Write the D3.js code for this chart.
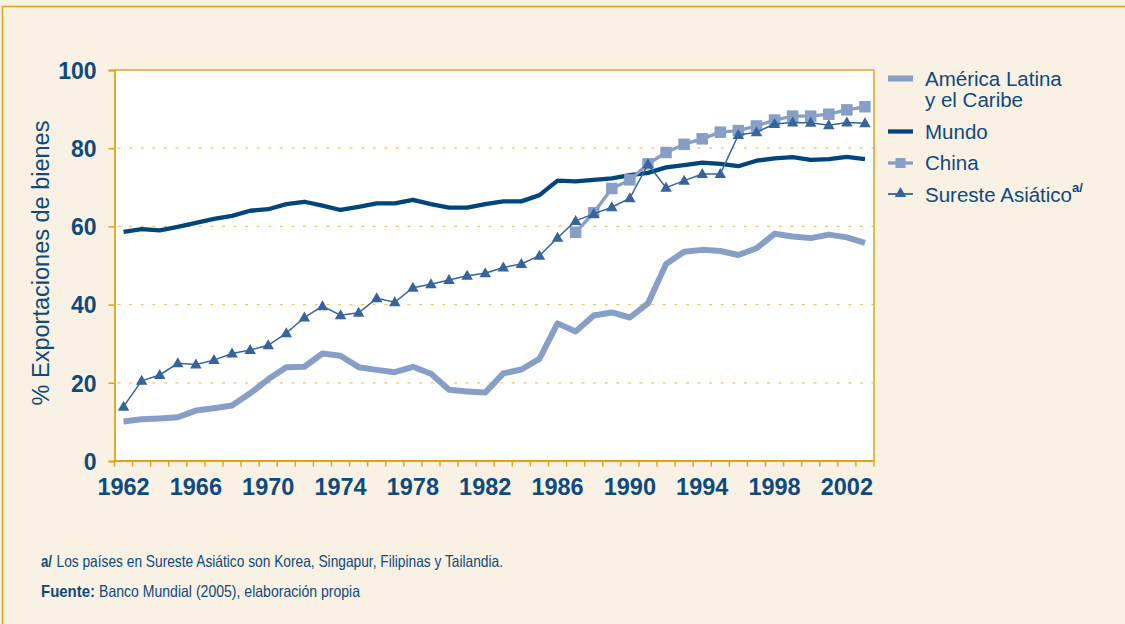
<!DOCTYPE html>
<html>
<head>
<meta charset="utf-8">
<script src="https://cdn.jsdelivr.net/npm/d3@7"></script>
<style>
  html, body { margin: 0; padding: 0; background: #f9f1e3; }
  svg { display: block; }
</style>
</head>
<body>
<svg id="chart" width="1125" height="624"></svg>
<script>
// ---------- DATA ----------
const years = d3.range(1962, 2004);
const yTicks = [0, 20, 40, 60, 80, 100];
const xTickLabels = [1962, 1966, 1970, 1974, 1978, 1982, 1986, 1990, 1994, 1998, 2002];

const latinAmerica = [10.1, 10.7, 10.9, 11.2, 12.9, 13.5, 14.2, 17.3, 20.9, 24.0,
  24.1, 27.5, 26.9, 24.0, 23.3, 22.7, 24.1, 22.3, 18.2, 17.8,
  17.5, 22.4, 23.4, 26.1, 35.2, 33.1, 37.2, 38.0, 36.7, 40.3,
  50.4, 53.5, 54.0, 53.7, 52.7, 54.4, 58.1, 57.4, 57.0, 57.9, 57.2, 55.8];

const mundo = [58.6, 59.3, 59.0, 59.9, 60.9, 61.9, 62.7, 64.0, 64.4, 65.7,
  66.3, 65.3, 64.2, 65.0, 65.9, 65.9, 66.8, 65.7, 64.8, 64.8,
  65.7, 66.4, 66.4, 68.0, 71.7, 71.5, 71.9, 72.3, 73.1, 73.7,
  75.1, 75.7, 76.3, 76.0, 75.4, 76.8, 77.4, 77.7, 77.0, 77.2, 77.8, 77.2];

const chinaYears = d3.range(1987, 2004);
const china = [58.5, 63.5, 69.7, 71.9, 76.0, 78.9, 81.0, 82.4, 84.1, 84.5,
  85.7, 87.2, 88.2, 88.2, 88.7, 89.8, 90.6];

const sureste = [13.9, 20.5, 22.0, 25.0, 24.7, 25.8, 27.5, 28.4, 29.6, 32.7,
  36.7, 39.6, 37.3, 37.9, 41.6, 40.6, 44.3, 45.2, 46.3, 47.4,
  48.0, 49.5, 50.4, 52.5, 57.1, 61.4, 63.2, 64.9, 67.2, 75.9,
  69.9, 71.7, 73.4, 73.4, 83.4, 84.1, 86.2, 86.6, 86.5, 85.9, 86.6, 86.4];

const legendLabels = [["América Latina", "y el Caribe"], ["Mundo"], ["China"], ["Sureste Asiático"]];
const yTitle = "% Exportaciones de bienes";
const note1Bold = "a/";
const note1 = "Los países en Sureste Asiático son Korea, Singapur, Filipinas y Tailandia.";
const note2Bold = "Fuente:";
const note2 = "Banco Mundial (2005), elaboración propia";

// ---------- STYLE ----------
const C = {
  bg: "#f9f1e3", axis: "#e0a419", grid: "#efc46a", text: "#0e4a7f",
  mundo: "#00457c", latin: "#879fc6", china: "#879fc6", sureste: "#36659e"
};
const narrow = "'Liberation Sans Narrow', 'Arial Narrow', 'Liberation Sans', Arial, sans-serif";
const sans = "'Liberation Sans', Arial, Helvetica, sans-serif";

const svg = d3.select("#chart");
const W = 1125, H = 624;
const plot = { left: 114.5, right: 874, top: 70, bottom: 461 };

// background + frame
svg.append("rect").attr("x", 0).attr("y", 0).attr("width", W).attr("height", H).attr("fill", C.bg);
svg.append("line").attr("x1", 2).attr("x2", W).attr("y1", 6.5).attr("y2", 6.5).attr("stroke", C.axis).attr("stroke-width", 1.5);
svg.append("line").attr("x1", 2.5).attr("x2", 2.5).attr("y1", 6).attr("y2", H).attr("stroke", C.axis).attr("stroke-width", 1.5);

const x = d3.scaleBand().domain(years).range([plot.left, plot.right]).padding(0);
const xc = yr => x(yr) + x.bandwidth() / 2;
const y = d3.scaleLinear().domain([0, 100]).range([plot.bottom, plot.top]);

// plot area
svg.append("rect").attr("x", plot.left).attr("y", plot.top)
  .attr("width", plot.right - plot.left).attr("height", plot.bottom - plot.top)
  .attr("fill", "#ffffff");

// gridlines
svg.append("g").selectAll("line").data(yTicks.filter(d => d > 0 && d < 100)).join("line")
  .attr("x1", plot.left + 3).attr("x2", plot.right)
  .attr("y1", d => y(d)).attr("y2", d => y(d))
  .attr("stroke", C.grid).attr("stroke-width", 1.2).attr("stroke-dasharray", "3,8.6");

// frame top/right
svg.append("line").attr("x1", plot.left).attr("x2", plot.right).attr("y1", plot.top).attr("y2", plot.top)
  .attr("stroke", C.axis).attr("stroke-width", 1.5);
svg.append("line").attr("x1", plot.right).attr("x2", plot.right).attr("y1", plot.top).attr("y2", plot.bottom)
  .attr("stroke", C.axis).attr("stroke-width", 1.5);

// y axis
const yAxis = svg.append("g").attr("transform", `translate(${plot.left},0)`)
  .call(d3.axisLeft(y).tickValues(yTicks).tickSize(6).tickPadding(12).tickFormat(d3.format("d")));
yAxis.select(".domain").attr("stroke", C.axis).attr("stroke-width", 1.8);
yAxis.selectAll(".tick line").attr("stroke", C.axis).attr("stroke-width", 1.5);
yAxis.selectAll(".tick text").attr("fill", C.text).attr("font-family", narrow)
  .attr("font-weight", "bold").attr("font-size", 23).attr("dy", "0.36em");

// x axis (ticks at band edges)
const xAxisG = svg.append("g").attr("transform", `translate(0,${plot.bottom})`);
xAxisG.append("line").attr("x1", plot.left).attr("x2", plot.right).attr("y1", 0).attr("y2", 0)
  .attr("stroke", C.axis).attr("stroke-width", 1.8);
const edges = years.map(d => x(d)).concat([plot.right]);
xAxisG.selectAll("line.t").data(edges).join("line").attr("class", "t")
  .attr("x1", d => d).attr("x2", d => d).attr("y1", 0).attr("y2", 5.5)
  .attr("stroke", C.axis).attr("stroke-width", 1.5);
xAxisG.selectAll("text").data(xTickLabels).join("text")
  .attr("x", d => xc(d)).attr("y", 34).attr("text-anchor", "middle")
  .attr("fill", C.text).attr("font-family", narrow).attr("font-weight", "bold").attr("font-size", 23.5)
  .text(d => d);

// y title
svg.append("text").attr("transform", `translate(49,263) rotate(-90)`)
  .attr("text-anchor", "middle").attr("fill", C.text).attr("font-family", sans).attr("font-size", 23.5)
  .text(yTitle);

// ---------- SERIES ----------
const line = d3.line().x(d => xc(d[0])).y(d => y(d[1]));

svg.append("path").datum(years.map((yr, i) => [yr, latinAmerica[i]]))
  .attr("d", line).attr("fill", "none").attr("stroke", C.latin).attr("stroke-width", 6).attr("stroke-linejoin", "round");

svg.append("path").datum(years.map((yr, i) => [yr, mundo[i]]))
  .attr("d", line).attr("fill", "none").attr("stroke", C.mundo).attr("stroke-width", 4.3).attr("stroke-linejoin", "round");

const chinaData = chinaYears.map((yr, i) => [yr, china[i]]);
svg.append("path").datum(chinaData)
  .attr("d", line).attr("fill", "none").attr("stroke", C.china).attr("stroke-width", 3.3);
const sq = 11.5;
svg.append("g").selectAll("rect").data(chinaData).join("rect")
  .attr("x", d => xc(d[0]) - sq / 2).attr("y", d => y(d[1]) - sq / 2)
  .attr("width", sq).attr("height", sq).attr("fill", C.china);

const surData = years.map((yr, i) => [yr, sureste[i]]);
svg.append("path").datum(surData)
  .attr("d", line).attr("fill", "none").attr("stroke", C.sureste).attr("stroke-width", 1.5);
const tri = (cx, cy, w, h) => `M${cx},${cy - h * 0.6}L${cx + w / 2},${cy + h * 0.4}L${cx - w / 2},${cy + h * 0.4}Z`;
svg.append("g").selectAll("path").data(surData).join("path")
  .attr("d", d => tri(xc(d[0]), y(d[1]), 11.5, 10)).attr("fill", C.sureste);

// ---------- LEGEND ----------
const lg = svg.append("g");
const lx1 = 888, lx2 = 913, tx = 925;
lg.append("line").attr("x1", lx1).attr("x2", lx2).attr("y1", 78.5).attr("y2", 78.5).attr("stroke", C.latin).attr("stroke-width", 6);
lg.append("text").attr("x", tx).attr("y", 86).attr("fill", C.text).attr("font-family", sans).attr("font-size", 20.5).text(legendLabels[0][0]);
lg.append("text").attr("x", tx).attr("y", 107).attr("fill", C.text).attr("font-family", sans).attr("font-size", 20.5).text(legendLabels[0][1]);
lg.append("line").attr("x1", lx1).attr("x2", lx2).attr("y1", 131.5).attr("y2", 131.5).attr("stroke", C.mundo).attr("stroke-width", 4.3);
lg.append("text").attr("x", tx).attr("y", 138.5).attr("fill", C.text).attr("font-family", sans).attr("font-size", 20.5).text(legendLabels[1][0]);
lg.append("line").attr("x1", lx1).attr("x2", lx2).attr("y1", 163).attr("y2", 163).attr("stroke", C.china).attr("stroke-width", 3.3);
lg.append("rect").attr("x", (lx1 + lx2) / 2 - 5).attr("y", 158).attr("width", 10).attr("height", 10).attr("fill", C.china);
lg.append("text").attr("x", tx).attr("y", 170).attr("fill", C.text).attr("font-family", sans).attr("font-size", 20.5).text(legendLabels[2][0]);
lg.append("line").attr("x1", lx1).attr("x2", lx2).attr("y1", 194).attr("y2", 194).attr("stroke", C.sureste).attr("stroke-width", 1.8);
lg.append("path").attr("d", tri((lx1 + lx2) / 2, 193, 11.5, 10)).attr("fill", C.sureste);
const st = lg.append("text").attr("x", tx).attr("y", 201.5).attr("fill", C.text).attr("font-family", sans).attr("font-size", 20.5);
st.append("tspan").text(legendLabels[3][0]);
st.append("tspan").attr("font-size", 13).attr("font-weight", "bold").attr("dy", -10).text("a/");

// ---------- NOTES ----------
const noteFont = { family: narrow, size: 16.5 };
svg.append("text").attr("x", 41).attr("y", 567).attr("fill", C.text)
  .attr("font-family", noteFont.family).attr("font-size", noteFont.size).attr("font-weight", "bold")
  .attr("textLength", 11).attr("lengthAdjust", "spacingAndGlyphs").text(note1Bold);
svg.append("text").attr("x", 56.5).attr("y", 567).attr("fill", C.text)
  .attr("font-family", noteFont.family).attr("font-size", noteFont.size)
  .attr("textLength", 446.5).attr("lengthAdjust", "spacingAndGlyphs").text(note1);
svg.append("text").attr("x", 41).attr("y", 597).attr("fill", C.text)
  .attr("font-family", noteFont.family).attr("font-size", noteFont.size).attr("font-weight", "bold")
  .attr("textLength", 54).attr("lengthAdjust", "spacingAndGlyphs").text(note2Bold);
svg.append("text").attr("x", 99).attr("y", 597).attr("fill", C.text)
  .attr("font-family", noteFont.family).attr("font-size", noteFont.size)
  .attr("textLength", 261).attr("lengthAdjust", "spacingAndGlyphs").text(note2);
</script>
</body>
</html>
